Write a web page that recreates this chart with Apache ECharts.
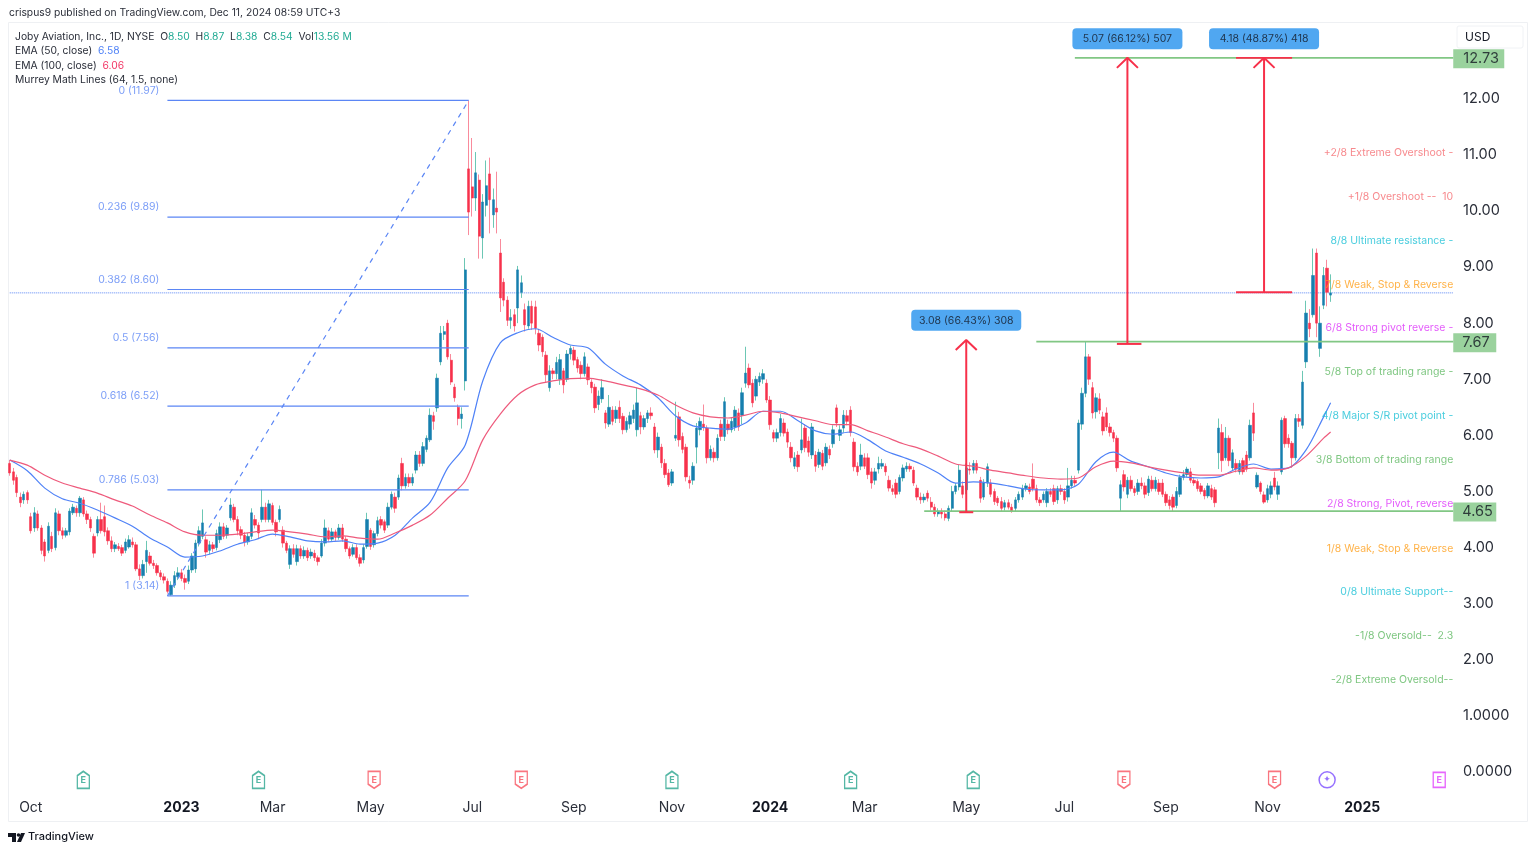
<!DOCTYPE html>
<html>
<head>
<meta charset="utf-8">
<title>JOBY</title>
<script src="https://cdn.jsdelivr.net/npm/echarts@6/dist/echarts.min.js"></script>
<style>
  html, body { margin: 0; padding: 0; background: #ffffff; }
  #chart { width: 1536px; height: 852px; }
</style>
</head>
<body>
<div id="chart"></div>
<script>
// daily candles
var opens = [
5.50,5.35,5.25,4.90,4.85,4.98,4.55,4.35,4.60,4.35,
4.10,3.95,4.20,4.00,4.60,4.30,4.22,4.28,4.62,4.70,
4.62,4.85,4.60,4.50,4.20,4.26,4.50,4.55,4.30,4.12,
3.98,4.02,4.00,3.95,4.01,4.10,4.05,3.62,3.50,3.75,
3.85,3.72,3.68,3.55,3.48,3.40,3.16,3.33,3.48,3.55,
3.45,3.40,3.60,3.62,4.08,4.20,4.14,3.95,4.05,4.00,
4.14,4.37,4.22,4.53,4.72,4.50,4.32,4.22,4.10,4.20,
4.50,4.40,4.50,4.72,4.50,4.75,4.45,4.50,4.31,4.08,
3.70,3.98,3.75,3.98,3.85,3.95,3.85,3.90,3.82,3.85,
4.08,4.30,4.15,4.28,4.18,4.35,4.15,3.98,3.88,4.00,
3.82,3.78,4.02,4.31,4.05,4.25,4.50,4.46,4.40,4.72,
4.90,4.90,5.50,5.10,5.25,5.15,5.38,5.65,5.50,5.75,
5.92,6.35,6.49,7.31,7.80,8.00,7.34,6.86,6.50,6.30,
6.97,10.75,10.43,10.23,10.55,9.52,10.10,10.66,9.93,10.05,
9.25,8.73,8.41,8.05,8.15,8.27,8.55,8.24,7.95,8.30,
8.29,7.82,7.75,7.43,6.85,7.15,7.10,7.00,7.15,7.00,
7.45,7.52,7.35,7.25,7.10,7.22,6.95,6.86,6.55,6.65,
6.40,6.20,6.45,6.30,6.50,6.34,6.10,6.20,6.30,6.10,
6.35,6.15,6.30,6.40,6.15,5.74,5.79,5.50,5.33,5.15,
5.95,6.33,5.98,5.79,5.20,5.20,5.79,6.10,6.20,6.13,
5.60,5.70,5.60,6.20,5.98,6.20,6.10,6.15,6.40,6.36,
6.93,7.20,6.93,6.70,6.95,7.00,6.93,6.63,6.05,5.95,
6.05,6.22,6.06,5.79,5.45,5.65,5.74,6.13,5.90,5.65,
5.65,5.48,5.68,5.51,5.75,5.85,6.49,6.00,6.13,6.35,
6.45,5.88,5.45,5.45,5.60,5.60,5.35,5.20,5.40,5.45,
5.45,5.20,5.05,5.15,5.00,5.24,5.40,5.45,5.38,5.06,
4.90,4.85,4.97,4.81,4.72,4.60,4.65,4.60,4.52,4.70,
5.00,5.08,5.10,5.03,5.40,5.38,5.50,5.20,4.90,5.15,
5.15,5.00,4.88,4.82,4.72,4.80,4.72,4.70,4.85,4.90,
5.05,5.08,5.22,5.05,4.85,4.85,4.80,5.00,5.05,4.85,
5.05,5.00,4.90,5.10,5.20,5.38,6.20,6.75,7.40,6.85,
6.42,6.65,6.33,6.40,6.15,6.05,5.95,4.88,5.30,4.95,
5.20,5.05,5.00,5.15,5.10,4.98,5.20,5.05,5.15,5.15,
4.95,4.85,4.90,4.75,4.95,5.25,5.30,5.35,5.20,5.18,
5.10,5.02,4.92,5.05,5.03,5.69,6.05,5.60,5.95,5.42,
5.50,5.35,5.55,5.65,5.60,6.40,5.08,5.15,4.94,4.85,
4.95,5.24,4.95,5.35,6.30,5.95,5.86,5.60,6.30,6.18,
7.31,8.00,8.15,9.25,7.55,8.32,8.98,8.50
];
var closes = [
5.33,5.20,4.98,4.80,4.95,4.85,4.30,4.62,4.35,3.95,
3.85,4.38,3.98,4.62,4.30,4.22,4.30,4.65,4.72,4.62,
4.88,4.60,4.50,4.35,3.90,4.50,4.30,4.28,4.12,3.98,
4.05,3.98,3.90,4.10,4.14,4.05,3.62,3.50,3.70,3.95,
3.72,3.68,3.55,3.48,3.42,3.22,3.33,3.50,3.55,3.45,
3.38,3.60,3.85,4.08,4.30,4.44,3.92,4.05,3.98,4.25,
4.37,4.20,4.35,4.76,4.50,4.30,4.22,4.10,4.20,4.62,
4.40,4.26,4.72,4.50,4.78,4.45,4.28,4.68,4.08,3.95,
3.98,3.88,3.98,3.85,3.95,3.82,3.92,3.82,3.75,4.08,
4.35,4.15,4.28,4.18,4.35,4.15,3.98,3.85,4.00,3.82,
3.72,4.00,4.50,4.02,4.25,4.48,4.40,4.31,4.72,4.95,
4.70,5.24,5.10,5.25,5.15,5.25,5.65,5.50,5.80,5.95,
6.36,6.25,7.02,7.82,7.85,7.40,6.95,6.67,6.30,6.38,
8.95,9.98,10.23,10.68,9.55,10.16,10.45,10.20,10.20,9.98,
8.45,8.41,8.05,8.10,7.95,8.95,8.72,7.97,8.30,8.00,
7.91,7.61,7.49,7.08,7.15,7.10,7.30,7.35,6.90,7.45,
7.55,7.34,7.20,7.10,7.40,6.99,6.85,6.49,6.70,6.85,
6.22,6.50,6.25,6.45,6.30,6.10,6.25,6.35,6.45,6.58,
6.15,6.30,6.40,6.35,5.74,5.97,5.51,5.30,5.12,5.35,
6.00,5.92,5.75,5.26,5.15,5.45,6.13,6.25,6.15,5.60,
5.75,5.60,5.95,5.98,6.60,6.10,6.25,6.45,6.15,6.76,
7.11,6.90,6.58,7.00,7.05,7.10,6.63,6.19,5.95,6.05,
6.30,6.04,5.88,5.60,5.60,5.44,5.92,5.78,5.70,6.15,
5.45,5.70,5.45,5.79,5.65,6.10,6.22,6.10,6.36,6.25,
6.05,5.44,5.35,5.65,5.45,5.30,5.15,5.35,5.50,5.50,
5.35,5.06,5.00,4.95,5.25,5.42,5.45,5.40,5.15,4.90,
4.85,4.90,4.88,4.72,4.60,4.65,4.60,4.53,4.70,5.00,
5.10,5.38,4.95,5.42,5.38,5.50,5.38,4.88,5.15,5.44,
4.95,4.82,4.80,4.70,4.80,4.72,4.65,4.85,4.95,5.05,
5.10,5.00,5.05,4.85,4.80,4.95,5.00,4.95,4.82,5.05,
5.00,4.85,5.10,5.20,5.15,6.22,6.75,7.40,7.00,6.40,
6.67,6.45,6.08,6.15,6.05,5.95,5.42,5.12,5.08,5.20,
5.05,4.98,5.15,5.10,4.95,5.22,5.05,5.20,5.00,4.95,
4.80,4.75,4.72,5.00,5.25,5.30,5.40,5.20,5.15,5.05,
5.00,4.92,5.10,4.90,4.80,6.13,5.55,5.95,5.55,5.69,
5.40,5.50,5.35,5.40,6.18,6.04,5.29,5.00,4.81,5.05,
5.10,5.08,5.10,6.27,5.85,5.85,5.60,6.30,6.25,6.95,
8.18,7.90,8.85,8.00,8.00,8.85,8.55,8.54
];
var lows = [
5.28,5.12,4.90,4.72,4.78,4.78,4.25,4.28,4.30,3.88,
3.75,3.90,3.92,3.95,4.22,4.15,4.18,4.22,4.58,4.55,
4.55,4.55,4.42,4.28,3.82,4.20,4.25,4.20,4.05,3.92,
3.92,3.94,3.85,3.90,3.98,4.00,3.58,3.42,3.45,3.55,
3.68,3.62,3.50,3.42,3.36,3.18,3.14,3.28,3.42,3.40,
3.25,3.35,3.55,3.55,4.02,4.15,3.82,3.88,3.92,3.95,
4.08,4.15,4.16,4.48,4.45,4.22,4.15,4.02,4.05,4.15,
4.34,4.15,4.45,4.45,4.45,4.40,4.20,4.45,4.00,3.90,
3.62,3.82,3.68,3.80,3.80,3.76,3.80,3.76,3.68,3.82,
4.02,4.10,4.10,4.12,4.14,4.10,3.92,3.80,3.84,3.78,
3.66,3.72,3.98,3.96,4.00,4.20,4.34,4.26,4.35,4.68,
4.62,4.85,5.02,5.05,5.08,5.10,5.32,5.44,5.45,5.70,
5.88,6.10,6.42,7.25,7.70,7.35,6.90,6.60,6.18,6.12,
6.80,9.57,9.90,10.00,9.15,9.15,9.90,9.60,9.70,9.60,
8.20,8.30,7.95,7.90,7.85,8.00,8.45,7.85,7.90,7.88,
7.80,7.50,7.40,6.95,6.78,7.00,7.00,6.90,6.75,6.95,
7.35,7.25,7.12,7.00,7.05,6.90,6.75,6.40,6.45,6.58,
6.12,6.15,6.18,6.22,6.22,6.02,6.05,6.12,6.22,5.98,
6.02,6.10,6.22,6.28,5.68,5.60,5.42,5.24,5.08,5.10,
5.90,5.80,5.68,5.18,5.05,5.12,5.50,6.00,6.08,5.50,
5.55,5.52,5.55,5.90,5.90,6.02,6.05,6.08,6.08,6.20,
6.85,6.84,6.50,6.62,6.88,6.92,6.58,6.10,5.88,5.88,
5.98,5.98,5.78,5.52,5.40,5.35,5.68,5.70,5.62,5.58,
5.35,5.42,5.38,5.45,5.58,5.78,6.15,5.90,6.05,6.18,
5.98,5.36,5.28,5.38,5.40,5.22,5.05,5.12,5.32,5.40,
5.28,5.00,4.94,4.88,4.95,5.18,5.35,5.35,5.10,4.84,
4.78,4.80,4.82,4.66,4.55,4.55,4.52,4.48,4.47,4.65,
4.95,5.02,4.88,4.95,5.30,5.32,5.32,4.80,4.85,5.08,
4.90,4.76,4.74,4.64,4.66,4.68,4.62,4.65,4.80,4.85,
5.00,4.95,5.00,4.80,4.74,4.80,4.72,4.90,4.76,4.78,
4.94,4.78,4.82,5.05,5.10,5.32,6.10,6.68,6.90,6.30,
6.30,6.38,6.00,6.08,5.98,5.88,5.35,4.65,5.00,4.88,
5.00,4.92,4.94,5.04,4.88,4.92,5.00,5.00,4.94,4.90,
4.74,4.68,4.65,4.70,4.90,5.20,5.25,5.15,5.10,5.00,
4.95,4.86,4.88,4.85,4.72,5.40,5.35,5.55,5.45,5.38,
5.34,5.30,5.30,5.35,5.55,5.90,5.05,4.95,4.78,4.80,
4.88,5.02,4.85,5.30,5.78,5.78,5.42,5.55,6.15,6.12,
7.20,7.75,8.10,7.75,7.40,8.25,8.30,8.38
];
var highs = [
5.56,5.42,5.30,4.98,5.00,5.02,4.62,4.72,4.66,4.40,
4.15,4.45,4.28,4.70,4.66,4.36,4.35,4.70,4.78,4.75,
4.92,4.90,4.66,4.55,4.25,4.56,4.80,4.75,4.36,4.20,
4.10,4.08,4.05,4.16,4.22,4.18,4.10,3.70,3.78,4.12,
3.92,3.78,3.72,3.60,3.54,3.45,3.40,3.58,3.65,3.62,
3.52,3.68,3.90,4.14,4.38,4.68,4.20,4.12,4.10,4.32,
4.45,4.44,4.40,4.88,4.78,4.56,4.38,4.28,4.26,4.70,
4.58,4.45,5.03,4.80,4.85,4.80,4.50,4.75,4.38,4.12,
4.04,4.06,4.05,4.04,4.02,4.00,3.98,3.96,3.86,4.15,
4.50,4.36,4.35,4.32,4.42,4.42,4.20,4.02,4.06,4.06,
3.88,4.06,4.62,4.35,4.30,4.55,4.56,4.50,4.80,5.00,
4.98,5.30,5.60,5.32,5.32,5.32,5.72,5.72,5.88,6.00,
6.48,6.42,7.10,7.95,7.95,8.06,7.45,6.92,6.55,6.50,
9.16,11.97,11.30,11.05,10.65,10.30,10.90,10.95,10.40,10.70,
9.50,8.80,8.48,8.25,8.25,9.02,8.85,8.35,8.40,8.40,
8.40,7.90,7.80,7.50,7.25,7.20,7.40,7.45,7.20,7.52,
7.60,7.58,7.40,7.32,7.48,7.28,7.00,6.92,6.80,7.00,
6.45,6.72,6.52,6.52,6.62,6.40,6.32,6.42,6.55,6.85,
6.42,6.36,6.45,6.50,6.22,6.05,5.85,5.58,5.40,5.40,
6.60,6.42,6.05,5.85,5.28,5.52,6.22,6.32,6.55,6.18,
5.82,5.78,6.02,6.28,6.68,6.28,6.32,6.52,6.48,6.85,
7.58,7.28,7.00,7.06,7.12,7.18,7.00,6.70,6.10,6.12,
6.38,6.30,6.12,5.88,5.70,5.72,6.30,6.20,5.98,6.22,
5.72,5.76,5.74,5.86,5.82,6.18,6.55,6.18,6.45,6.45,
6.52,5.95,5.52,5.85,5.68,5.68,5.42,5.42,5.62,5.58,
5.50,5.28,5.12,5.22,5.30,5.48,5.52,5.50,5.44,5.12,
4.98,4.96,5.02,4.90,4.78,4.70,4.70,4.66,4.75,5.10,
5.15,5.48,5.18,5.50,5.52,5.56,5.56,5.26,5.22,5.50,
5.22,5.05,4.92,4.90,4.85,4.86,4.78,4.90,5.00,5.12,
5.15,5.14,5.50,5.12,4.90,5.00,5.06,5.06,5.12,5.10,
5.12,5.06,5.42,5.28,5.28,6.28,6.85,7.67,7.45,6.95,
6.75,6.75,6.42,6.50,6.22,6.10,6.00,5.20,5.38,5.26,
5.28,5.10,5.22,5.25,5.16,5.28,5.28,5.26,5.22,5.22,
5.00,4.92,4.95,5.08,5.30,5.38,5.44,5.42,5.25,5.22,
5.15,5.06,5.15,5.12,5.08,6.30,6.20,6.15,6.00,5.75,
5.58,5.56,5.60,5.72,6.28,6.58,5.34,5.18,5.00,5.12,
5.18,5.35,5.18,6.32,6.35,6.02,5.90,6.38,6.38,7.15,
8.40,8.25,9.33,9.33,8.30,9.00,9.13,8.87
];

// EMA lines, one reading every fifth candle plus the last one
var ema50 = [
5.56,5.37,5.06,4.87,4.79,4.67,4.53,4.38,4.17,4.01,
3.83,3.85,3.94,4.06,4.14,4.24,4.19,4.12,4.10,4.12,
4.06,4.08,4.22,4.53,4.81,5.42,5.83,6.97,7.65,7.83,
7.90,7.75,7.61,7.56,7.27,7.06,6.90,6.67,6.35,6.17,
6.13,6.11,6.22,6.43,6.43,6.26,6.08,6.02,6.06,5.92,
5.72,5.61,5.49,5.33,5.15,5.17,5.15,5.10,5.04,5.03,
5.03,5.13,5.53,5.70,5.54,5.44,5.33,5.26,5.24,5.26,
5.40,5.49,5.40,5.42,5.74,6.33,6.58
];
var ema100 = [
5.56,5.47,5.29,5.15,5.06,4.97,4.85,4.74,4.58,4.44,
4.28,4.22,4.22,4.24,4.28,4.31,4.28,4.24,4.19,4.21,
4.17,4.15,4.26,4.40,4.58,4.88,5.19,5.92,6.38,6.72,
6.90,6.97,7.01,7.02,6.97,6.90,6.83,6.72,6.54,6.40,
6.33,6.31,6.36,6.43,6.40,6.33,6.26,6.19,6.19,6.08,
5.97,5.85,5.76,5.63,5.49,5.45,5.38,5.33,5.28,5.24,
5.22,5.24,5.44,5.54,5.51,5.44,5.38,5.33,5.29,5.29,
5.36,5.42,5.38,5.42,5.63,5.95,6.06
];

var slotCount = 413;
var tickIndex = [6, 49, 75, 103, 132, 161, 189, 217, 244, 273, 301, 330, 359, 386];
var tickNames = ['Oct', '2023', 'Mar', 'May', 'Jul', 'Sep', 'Nov', '2024', 'Mar', 'May', 'Jul', 'Sep', 'Nov', '2025'];
var priceTicks = [0, 1, 2, 3, 4, 5, 6, 7, 8, 9, 10, 11, 12];

var fibLevels = [11.97, 9.89, 8.60, 7.56, 6.52, 5.03, 3.14];
var fibNames = ['0', '0.236', '0.382', '0.5', '0.618', '0.786', '1'];
var lastClose = 8.54;

var murreyNames = ['+2/8 Extreme Overshoot -', '+1/8 Overshoot --  10', '8/8 Ultimate resistance -', '7/8 Weak, Stop & Reverse',
    '6/8 Strong pivot reverse -', '5/8 Top of trading range -', '4/8 Major S/R pivot point -', '3/8 Bottom of trading range',
    '2/8 Strong, Pivot, reverse', '1/8 Weak, Stop & Reverse', '0/8 Ultimate Support--', '-1/8 Oversold--  2.3', '-2/8 Extreme Oversold--'];
var murreyLevels = [11.03, 10.25, 9.47, 8.68, 7.91, 7.13, 6.34, 5.56, 4.78, 3.98, 3.21, 2.43, 1.64];
var murreyColors = ['#f56c70', '#f56c70', '#1cc0d6', '#ff9f1a', '#dd33fa', '#5cb860', '#1cc0d6', '#5cb860',
    '#dd33fa', '#ff9f1a', '#1cc0d6', '#5cb860', '#5cb860'];

var targetLevels = [12.73, 7.67, 4.65];
var targetStart = [304, 293, 261];

var earningsUp = [21, 71, 189, 240, 275];
var earningsDown = [104, 146, 318, 361];
var dividendAt = 376;
var futureEarningsAt = 408;
var markerLevel = -0.14;

var FONT = 'Inter, Roboto, sans-serif';
var FIB_BLUE = '#5b86f5';
var ARROW_RED = '#f7304a';

var categories = [];
for (var s = 0; s < slotCount; s++) {
    categories.push(String(s));
}

var wickData = [];
var bodyData = [];
for (var i = 0; i < opens.length; i++) {
    wickData.push([opens[i], closes[i], lows[i], highs[i]]);
    bodyData.push([opens[i], closes[i], Math.min(opens[i], closes[i]), Math.max(opens[i], closes[i])]);
}

function emaPoints(values) {
    return values.map(function (v, k) {
        return [Math.min(k * 5, opens.length - 1), v];
    });
}

function drawLine(points, color, width, type, z) {
    return {
        type: 'line',
        data: points,
        symbol: 'none',
        silent: true,
        animation: false,
        z: z || 4,
        lineStyle: { color: color, width: width, type: type || 'solid' }
    };
}

function textPoints(rows, z) {
    return {
        type: 'scatter',
        data: rows,
        symbolSize: 0,
        silent: true,
        animation: false,
        clip: false,
        z: z || 6
    };
}

var series = [];

// candles: wick pass first, then the darker bodies on top
series.push({
    type: 'candlestick',
    data: wickData,
    barWidth: 1,
    animation: false,
    z: 2,
    itemStyle: { color: '#6cc7b4', color0: '#f98b9c', borderColor: '#6cc7b4', borderColor0: '#f98b9c', borderWidth: 1 }
});
series.push({
    type: 'candlestick',
    data: bodyData,
    barWidth: 2.9,
    animation: false,
    z: 3,
    itemStyle: { color: '#167fae', color0: '#f7314b', borderColor: '#167fae', borderColor0: '#f7314b', borderWidth: 0.5 }
});

var ema50Line = drawLine(emaPoints(ema50), '#4f82f7', 1.2);
ema50Line.smooth = 0.3;
series.push(ema50Line);
var ema100Line = drawLine(emaPoints(ema100), '#ee5a7c', 1.2);
ema100Line.smooth = 0.3;
series.push(ema100Line);

// fibonacci retracement
fibLevels.forEach(function (lv) {
    series.push(drawLine([[45, lv], [131, lv]], FIB_BLUE, 1.2));
});
series.push(drawLine([[45, fibLevels[6]], [131, fibLevels[0]]], FIB_BLUE, 1.2, [5, 5]));
series.push(textPoints(fibLevels.map(function (lv, n) {
    return {
        value: [45, lv],
        label: {
            show: true, position: 'left', distance: 8, offset: [0, -10],
            formatter: fibNames[n] + ' (' + lv.toFixed(2) + ')',
            color: FIB_BLUE, fontSize: 10.5, fontFamily: FONT
        }
    };
})));

// last price
series.push(drawLine([[0, lastClose], [slotCount - 1, lastClose]], FIB_BLUE, 1, 'dotted', 1));

// target lines and their price tags
targetLevels.forEach(function (lv, n) {
    series.push(drawLine([[targetStart[n], lv], [slotCount - 1, lv]], '#81c784', 1.8));
});
series.push(textPoints(targetLevels.map(function (lv, n) {
    return {
        value: [slotCount - 1, lv],
        label: {
            show: true, position: 'right', distance: 0, offset: [0, 1],
            formatter: lv.toFixed(2),
            color: '#131722', fontSize: 14.5, fontFamily: FONT,
            backgroundColor: '#81c784', lineHeight: 19, align: 'left',
            width: n === 0 ? 38 : 30,
            padding: n === 0 ? [0, 3, 0, 10] : [0, 4, 0, 9]
        }
    };
}), 7));

// measuring arrows
series.push(drawLine([[271, 4.63], [275, 4.63]], ARROW_RED, 2, 'solid', 5));
series.push(drawLine([[273, 4.63], [273, 7.70]], ARROW_RED, 2, 'solid', 5));
series.push(drawLine([[270, 7.52], [273, 7.70], [276, 7.52]], ARROW_RED, 2, 'solid', 5));
series.push(drawLine([[316, 7.63], [323, 7.63]], ARROW_RED, 2, 'solid', 5));
series.push(drawLine([[319, 7.63], [319, 12.73]], ARROW_RED, 2, 'solid', 5));
series.push(drawLine([[316, 12.55], [319, 12.73], [322, 12.55]], ARROW_RED, 2, 'solid', 5));
series.push(drawLine([[350, 8.55], [366, 8.55]], ARROW_RED, 2, 'solid', 5));
series.push(drawLine([[358, 8.55], [358, 12.73]], ARROW_RED, 2, 'solid', 5));
series.push(drawLine([[355, 12.55], [358, 12.73], [361, 12.55]], ARROW_RED, 2, 'solid', 5));
series.push(drawLine([[350, 12.73], [366, 12.73]], ARROW_RED, 1.8, 'solid', 5));

var boxRows = [
    [273, 8.05, '3.08 (66.43%) 308'],
    [319, 13.07, '5.07 (66.12%) 507'],
    [358, 13.07, '4.18 (48.87%) 418']
];
series.push(textPoints(boxRows.map(function (row) {
    return {
        value: [row[0], row[1]],
        label: {
            show: true, position: 'inside',
            formatter: row[2],
            color: '#131722', fontSize: 10.5, fontFamily: FONT,
            backgroundColor: '#2491ee', borderRadius: 4, width: 110, height: 21, lineHeight: 21, align: 'center'
        }
    };
}), 7));

// murrey math labels, cut at the price scale like the original
series.push(textPoints(murreyNames.map(function (name, n) {
    return {
        value: [slotCount - 1, murreyLevels[n]],
        label: {
            show: true, position: 'left', distance: 0,
            formatter: name,
            color: murreyColors[n], fontSize: 10.5, fontFamily: FONT
        }
    };
})));

// earnings and dividend markers
var TAG_UP = 'path://M0,-8 L5,-4 L5,8 L-5,8 L-5,-4 Z';
var TAG_DOWN = 'path://M-5,-8 L5,-8 L5,4 L0,8 L-5,4 Z';
function marker(at, symbol, size, color, text, font) {
    return {
        value: [at, markerLevel],
        symbol: symbol,
        symbolSize: size,
        itemStyle: { color: '#ffffff', borderColor: color, borderWidth: 1.5 },
        label: {
            show: true, position: 'inside', formatter: text,
            color: color, fontSize: 9, fontWeight: 'bold', fontFamily: font || FONT
        }
    };
}
var markerRows = [];
earningsUp.forEach(function (at) { markerRows.push(marker(at, TAG_UP, [12, 17], '#2aa58e', 'E')); });
earningsDown.forEach(function (at) { markerRows.push(marker(at, TAG_DOWN, [12, 17], '#f7525f', 'E')); });
markerRows.push(marker(dividendAt, 'circle', 16, '#7c4dff', '\u2726', 'DejaVu Sans'));
markerRows.push(marker(futureEarningsAt, 'rect', [12, 15], '#e040fb', 'E'));
series.push({
    type: 'scatter',
    data: markerRows,
    silent: true,
    animation: false,
    z: 6
});

function legendLine(y, text) {
    return {
        type: 'text', left: 15, top: y, silent: true,
        style: {
            text: text,
            fontFamily: FONT, fontSize: 10.3, fill: '#2a2e39',
            rich: {
                g: { fill: '#22ab94', fontSize: 10.3, fontFamily: FONT },
                b: { fill: '#4f82f7', fontSize: 10.3, fontFamily: FONT },
                r: { fill: '#f23665', fontSize: 10.3, fontFamily: FONT },
                d: { fill: '#2a2e39', fontSize: 10.3, fontFamily: FONT }
            }
        }
    };
}

var chart = echarts.init(document.getElementById('chart'));
chart.setOption({
    backgroundColor: '#ffffff',
    animation: false,
    grid: { left: 8, right: 81, top: 23, bottom: 57, containLabel: false },
    xAxis: {
        type: 'category',
        data: categories,
        boundaryGap: true,
        axisLine: { show: false },
        axisTick: { show: false },
        splitLine: { show: false },
        axisLabel: {
            margin: 6,
            interval: function (index) { return tickIndex.indexOf(index) >= 0; },
            formatter: function (value, index) {
                var name = tickNames[tickIndex.indexOf(Number(value))];
                return /^\d+$/.test(name) ? '{y|' + name + '}' : '{m|' + name + '}';
            },
            rich: {
                y: { fontFamily: FONT, fontSize: 14, fontWeight: 'bold', color: '#131722' },
                m: { fontFamily: FONT, fontSize: 14, color: '#2a2e39' }
            }
        }
    },
    yAxis: {
        type: 'value',
        position: 'right',
        min: -0.41,
        max: 13.35,
        axisLine: { show: false },
        axisTick: { show: false },
        splitLine: { show: false },
        axisLabel: {
            customValues: priceTicks,
            margin: 8,
            color: '#2a2e39',
            fontSize: 14.5,
            fontFamily: FONT,
            padding: [3, 0, 0, 0],
            formatter: function (v) { return v < 2 ? v.toFixed(4) : v.toFixed(2); }
        }
    },
    series: series,
    graphic: [
        { type: 'rect', silent: true, z: 0, shape: { x: 8.5, y: 22.5, width: 1519, height: 799 }, style: { fill: 'none', stroke: '#eef0f3', lineWidth: 1 } },
        { type: 'rect', silent: true, z: 8, shape: { x: 1457, y: 26, width: 66, height: 22, r: 2 }, style: { fill: '#ffffff', stroke: '#f0f2f5' } },
        { type: 'text', silent: true, z: 9, left: 1465, top: 31, style: { text: 'USD', fontFamily: FONT, fontSize: 12, fill: '#131722' } },
        { type: 'text', silent: true, left: 9, top: 8, style: { text: 'crispus9 published on TradingView.com, Dec 11, 2024 08:59 UTC+3', fontFamily: FONT, fontSize: 10.3, fill: '#2a2e39' } },
        legendLine(32, '{d|Joby Aviation, Inc., 1D, NYSE  O}{g|8.50}{d|  H}{g|8.87}{d|  L}{g|8.38}{d|  C}{g|8.54}{d|  Vol}{g|13.56 M}'),
        legendLine(46, '{d|EMA (50, close)  }{b|6.58}'),
        legendLine(61, '{d|EMA (100, close)  }{r|6.06}'),
        legendLine(75, '{d|Murrey Math Lines (64, 1.5, none)}'),
        { type: 'polygon', silent: true, shape: { points: [[8, 833], [16, 833], [16, 842], [12, 842], [12, 837], [8, 837]] }, style: { fill: '#131722' } },
        { type: 'circle', silent: true, shape: { cx: 18.5, cy: 835, r: 1.8 }, style: { fill: '#131722' } },
        { type: 'polygon', silent: true, shape: { points: [[21, 833], [25, 833], [21, 842], [17, 842]] }, style: { fill: '#131722' } },
        { type: 'text', silent: true, left: 28, top: 831, style: { text: 'TradingView', fontFamily: FONT, fontSize: 11, fontWeight: 500, fill: '#131722' } }
    ]
});
</script>
</body>
</html>
